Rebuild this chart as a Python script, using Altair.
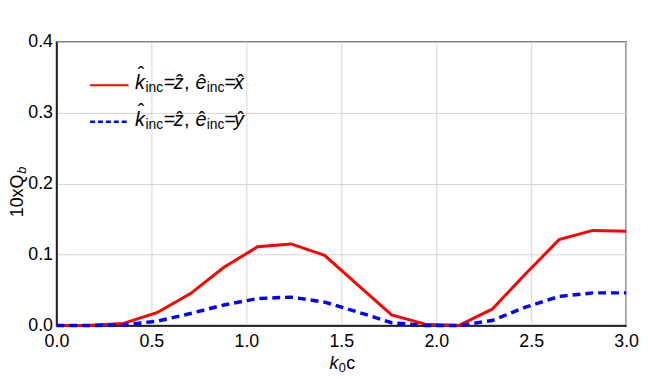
import altair as alt
import pandas as pd

k0c = [0.0, 0.176, 0.353, 0.529, 0.706, 0.882, 1.059, 1.235, 1.412, 1.588,
       1.765, 1.941, 2.118, 2.294, 2.471, 2.647, 2.824, 3.0]
q_x = [0.0, 0.0005, 0.003, 0.018, 0.045, 0.082, 0.111, 0.115, 0.099, 0.057,
       0.015, 0.002, 0.0, 0.023, 0.073, 0.121, 0.134, 0.133]
q_y = [0.0, 0.0, 0.001, 0.006, 0.017, 0.029, 0.038, 0.040, 0.033, 0.019,
       0.004, 0.0, 0.0, 0.007, 0.026, 0.041, 0.046, 0.046]
series = ["x", "y"]
colors = ["#ff0000", "#0000ff"]

rows = []
for s, vals in zip(series, [q_x, q_y]):
    for k, v in zip(k0c, vals):
        rows.append({"k0c": k, "Q": v, "s": s})
df = pd.DataFrame(rows)

FONT = "Liberation Sans"
W, H = 576, 287
OX, OY = 57, 40  # view origin in page pixels

axis_common = dict(format=".1f", title=None, labelFontSize=18, labelFont=FONT,
                   labelColor="black", domainColor="black", domainWidth=1.5,
                   gridColor="#d4d4d4", gridWidth=1, ticks=False, labelFlush=False)
x_enc = alt.X("k0c:Q", scale=alt.Scale(domain=[0, 3], nice=False),
              axis=alt.Axis(values=[0, 0.5, 1, 1.5, 2, 2.5, 3], labelPadding=7, **axis_common))
y_enc = alt.Y("Q:Q", scale=alt.Scale(domain=[0, 0.4], nice=False),
              axis=alt.Axis(values=[0, 0.1, 0.2, 0.3, 0.4], labelPadding=4, **axis_common))

red = alt.Chart(df[df.s == "x"]).mark_line(color=colors[0], strokeWidth=3).encode(x=x_enc, y=y_enc)
blue = alt.Chart(df[df.s == "y"]).mark_line(color=colors[1], strokeWidth=3.5,
                                             strokeDash=[8, 5]).encode(x=x_enc, y=y_enc)

one = pd.DataFrame({"a": [0]})
leg_lines = alt.Chart(one).mark_rule(color=colors[0], strokeWidth=2).encode(
    x=alt.value(91 - OX), x2=alt.value(130 - OX), y=alt.value(84 - OY))
leg_lines2 = alt.Chart(one).mark_rule(color=colors[1], strokeWidth=2.5,
                                      strokeDash=[5, 3]).encode(
    x=alt.value(91 - OX), x2=alt.value(130 - OX), y=alt.value(121 - OY))


def piece(text, xpx, ypx, size, italic=False, align="left", angle=0):
    kw = dict(align=align, baseline="alphabetic", font=FONT, fontSize=size, color="black")
    if italic:
        kw["fontStyle"] = "italic"
    if angle:
        kw["angle"] = angle
    return alt.Chart(pd.DataFrame({"t": [text]})).mark_text(**kw).encode(
        text="t:N", x=alt.value(xpx - OX), y=alt.value(ypx - OY))


HAT = "\u02c6"


def legend_row(last, yb):
    return [
        piece("k", 136.5, yb, 20, italic=True),
        piece(HAT, 142.5, yb - 8, 20, align="center"),
        piece("inc", 147, yb + 3, 14),
        piece("=", 165.5, yb, 20),
        piece("z", 175.5, yb, 20, italic=True),
        piece(HAT, 181.5, yb, 20, align="center"),
        piece(",", 186, yb, 20),
        piece("e", 197.5, yb, 20, italic=True),
        piece(HAT, 204, yb, 20, align="center"),
        piece("inc", 209, yb + 3, 14),
        piece("=", 227, yb, 20),
        piece(last, 236.5, yb, 20, italic=True),
        piece(HAT, 243, yb, 20, align="center"),
    ]


legend_text = legend_row("x", 88) + legend_row("y", 125)

xtitle = [piece("k", 333, 371, 18, italic=True),
          piece("0", 342.5, 374, 13),
          piece("c", 350, 371, 18)]
ytitle = [piece("10xQ", 23, 196, 18, align="center", angle=270),
          piece("b", 26, 170, 13, italic=True, align="center", angle=270)]

chart = alt.layer(red, blue, leg_lines, leg_lines2, *legend_text, *xtitle, *ytitle).properties(
    width=W, height=H,
    autosize=alt.AutoSizeParams(type="none"),
    padding={"left": OX - 8, "top": OY - 8, "right": 14, "bottom": 50},
    background="white",
).configure_view(stroke="#555555", strokeWidth=1.5)

chart.save("out.html", embed_options={"renderer": "svg", "actions": False})
